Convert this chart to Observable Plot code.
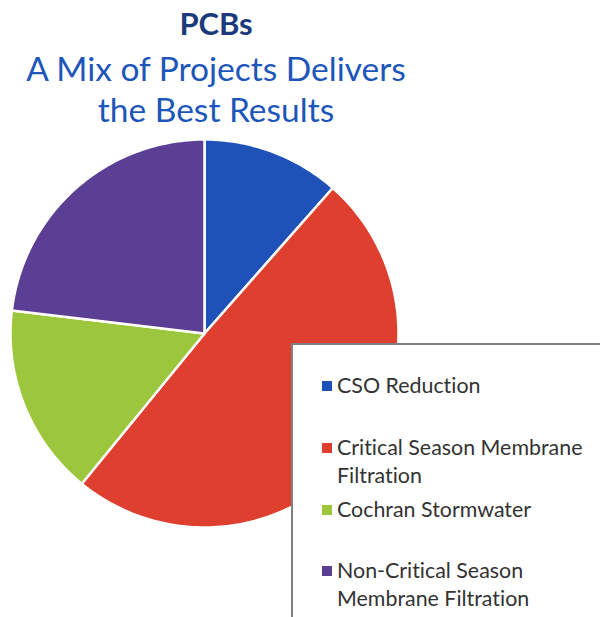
<!DOCTYPE html>
<html>
<head>
<meta charset="utf-8">
<script src="https://cdn.jsdelivr.net/npm/d3@7"></script>
<script src="https://cdn.jsdelivr.net/npm/@observablehq/plot@0.6"></script>
<style>
  html, body { margin: 0; padding: 0; background: #fff; }
  #wrap { position: relative; width: 600px; height: 617px; overflow: hidden; font-family: Lato, "Open Sans", sans-serif; font-variant-ligatures: none; font-feature-settings: "liga" 0, "clig" 0; }
  #titles { position: relative; width: 600px; height: 138px; }
  .tl { position: absolute; left: 0; width: 432px; text-align: center; white-space: nowrap; }
  #t0 { top: 7.5px; font-size: 31px; line-height: 31px; font-weight: bold; color: #1b3a7c; }
  #t1 { top: 52.3px; font-size: 33.5px; line-height: 33.5px; color: #1d56b9; }
  #t2 { top: 93.3px; font-size: 33.5px; line-height: 33.5px; color: #1d56b9; }
  #legendBox { position: absolute; left: 291px; top: 343px; width: 330px; height: 300px; border: 2.5px solid #808080; background: #fff; box-sizing: border-box; }
  .li { position: absolute; left: 337px; font-size: 21.4px; line-height: 28px; color: #333; white-space: nowrap; }
  .sw { position: absolute; left: 322px; width: 10px; height: 10px; }
  svg { display: block; }
</style>
</head>
<body>
<div id="wrap">
  <div id="titles"></div>
  <div id="chart"></div>
</div>
<script>
const titleLines = ["PCBs", "A Mix of Projects Delivers", "the Best Results"];
const categories = [
  "CSO Reduction",
  "Critical Season Membrane Filtration",
  "Cochran Stormwater",
  "Non-Critical Season Membrane Filtration"
];
const legendLines = [
  ["CSO Reduction"],
  ["Critical Season Membrane", "Filtration"],
  ["Cochran Stormwater"],
  ["Non-Critical Season", "Membrane Filtration"]
];
const values = [11.5, 49.4, 16.0, 23.1];
const colors = ["#1f52b8", "#de3f2e", "#9cc73c", "#5b3f94"];

// titles
const titles = document.getElementById("titles");
titleLines.forEach((t, i) => {
  const d = document.createElement("div");
  d.className = "tl"; d.id = "t" + i; d.textContent = t;
  titles.appendChild(d);
});

// pie geometry from the data
const data = categories.map((name, i) => ({name, value: values[i]}));
const arcs = d3.pie().sort(null).value(d => d.value).startAngle(0).endAngle(2 * Math.PI)(data);
const pts = [];
arcs.forEach(a => {
  const n = Math.max(2, Math.ceil((a.endAngle - a.startAngle) / (Math.PI / 180)));
  pts.push({name: a.data.name, x: 0, y: 0});
  for (let i = 0; i <= n; i++) {
    const ang = a.startAngle + (a.endAngle - a.startAngle) * i / n;
    pts.push({name: a.data.name, x: Math.sin(ang), y: Math.cos(ang)});
  }
});

const chart = Plot.plot({
  width: 600,
  height: 479,
  margin: 0,
  style: {background: "#fff", overflow: "visible"},
  x: {domain: [-1, 1], range: [10, 398], axis: null},
  y: {domain: [-1, 1], range: [389, 1], axis: null},
  color: {domain: categories, range: colors},
  marks: [
    Plot.line(pts, {x: "x", y: "y", z: "name", fill: "name", stroke: "white", strokeWidth: 2.5, strokeLinejoin: "round", curve: "linear-closed"})
  ]
});
document.getElementById("chart").appendChild(chart);

// legend
const wrap = document.getElementById("wrap");
const box = document.createElement("div");
box.id = "legendBox";
wrap.appendChild(box);
const tops = [370.7, 432.7, 494.7, 555.7];
legendLines.forEach((lines, i) => {
  const d = document.createElement("div");
  d.className = "li";
  d.style.top = tops[i] + "px";
  d.innerHTML = lines.join("<br>");
  wrap.appendChild(d);
  const s = document.createElement("div");
  s.className = "sw";
  s.style.top = (tops[i] + 22.3 - 12) + "px";
  s.style.background = colors[i];
  wrap.appendChild(s);
});
</script>
</body>
</html>
